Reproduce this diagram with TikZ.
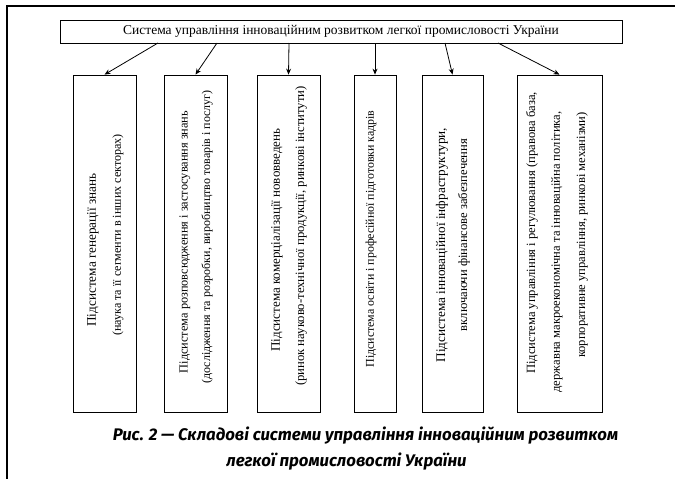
\documentclass[tikz,border=0pt]{standalone}
\usepackage{fontspec}
\setmainfont{Liberation Serif}
\newfontfamily\capfont{Fira Sans}
\usetikzlibrary{arrows.meta,calc}
\tikzset{
  frameline/.style={line width=1.5pt},
  boxshape/.style={draw, line width=0.8pt, minimum height=337pt, inner sep=0pt},
  boxtext/.style={rotate=90, inner sep=0pt},
  fs/.style={font=\fontsize{#1}{#1}\selectfont},
  arr/.style={line width=0.8pt, -{Stealth[length=6pt,width=5pt]}},
  captext/.style={anchor=base, font=\capfont\bfseries\itshape\fontsize{16.8}{20}\selectfont}
}
\begin{document}
\begin{tikzpicture}[x=1pt,y=-1pt]
\useasboundingbox (0,0) rectangle (675,479);
\draw[frameline] (7,479) -- (7,6) -- (675,6);
\node[draw, line width=0.8pt, minimum width=562pt, minimum height=23pt, inner sep=0pt,
      font=\fontsize{13.5}{15}\selectfont] (title) at (341,31.5)
  {Система управління інноваційним розвитком легкої промисловості України};
% boxes
\node[boxshape, minimum width=63pt] (b1) at (104.5,243.5) {};
\node[boxshape, minimum width=63pt] (b2) at (195.5,243.5) {};
\node[boxshape, minimum width=63pt] (b3) at (288.5,243.5) {};
\node[boxshape, minimum width=42pt] (b4) at (375,243.5) {};
\node[boxshape, minimum width=61pt] (b5) at (452.5,243.5) {};
\node[boxshape, minimum width=85pt] (b6) at (559.5,243.5) {};
% texts
\node[boxtext, fs=13.2] (t1a) at (93,250) {Підсистема генерації знань};
\node[boxtext, fs=12.1] (t1b) at (118,235) {(наука та її сегменти в інших секторах)};
\node[boxtext, fs=12.3] (t2a) at (185,242) {Підсистема розповсюдження і застосування знань};
\node[boxtext, fs=12.0] (t2b) at (207,237) {(дослідження та розробки, виробництво товарів і послуг)};
\node[boxtext, fs=13.0] (t3a) at (277,240) {Підсистема комерціалізації нововведень};
\node[boxtext, fs=12.7] (t3b) at (301,236) {(ринок науково-технічної продукції, ринкові інститути)};
\node[boxtext, fs=11.9] (t4) at (371,239) {Підсистема освіти і професійної підготовки кадрів};
\node[boxtext, fs=13.2] (t5a) at (442,245) {Підсистема інноваційної інфраструктури,};
\node[boxtext, fs=12.6] (t5b) at (464,235) {включаючи фінансове забезпечення};
\node[boxtext, fs=12.6] (t6a) at (532,233) {Підсистема управління і регулювання (правова база,};
\node[boxtext, fs=12.6] (t6b) at (557,252) {державна макроекономічна та інноваційна політика,};
\node[boxtext, fs=12.6] (t6c) at (582,235) {корпоративне управління, ринкові механізми)};
% arrow start points
\coordinate (s1) at (158,43);
\coordinate (s2) at (217,43);
\coordinate (s3) at (289,43);
\coordinate (s4) at (375,43);
\coordinate (s5) at (445,43);
\coordinate (s6) at (498,43);
\draw[arr] (s1) -- (b1.north);
\draw[arr] (s2) -- (b2.north);
\draw[arr] (s3) -- (b3.north);
\draw[arr] (s4) -- (b4.north);
\draw[arr] (s5) -- (b5.north);
\draw[arr] (s6) -- (b6.north);
% caption
\node[captext] (c1) at (365.5,440) {Рис. 2 — Складові системи управління інноваційним розвитком};
\node[captext] (c2) at (346.5,466) {легкої промисловості України};
\end{tikzpicture}
\end{document}
